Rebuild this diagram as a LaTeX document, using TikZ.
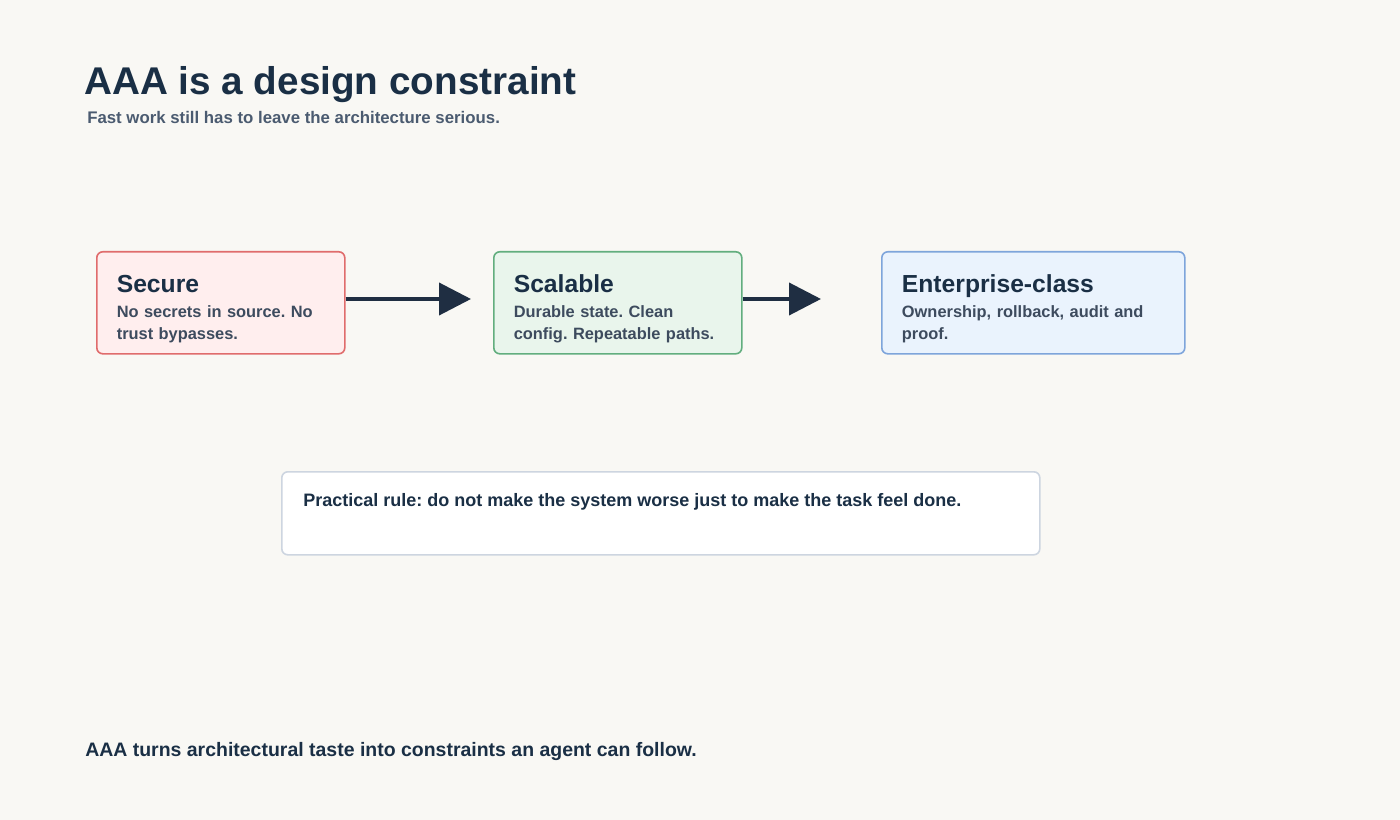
\documentclass[tikz,border=0pt]{standalone}
\usepackage{fontspec}
\setmainfont{Liberation Sans}
\usetikzlibrary{arrows.meta, positioning}
\frenchspacing

\definecolor{pagebg}{HTML}{F9F8F4}
\definecolor{ink}{HTML}{1A2F45}
\definecolor{slate}{HTML}{4B5B70}
\definecolor{bodyink}{HTML}{3D4B5E}
\definecolor{secfill}{HTML}{FFEEEE}
\definecolor{secline}{HTML}{E06C6C}
\definecolor{scalfill}{HTML}{E9F5EC}
\definecolor{scalline}{HTML}{62AE7E}
\definecolor{entfill}{HTML}{EAF3FD}
\definecolor{entline}{HTML}{7EA5DB}
\definecolor{ruleline}{HTML}{CDD5E0}
\definecolor{arrowink}{HTML}{1F2E42}

\tikzset{
    stage/.style={
        rectangle, rounded corners=4.5pt, line width=1.2pt, anchor=north west,
        minimum width=186pt, minimum height=76.5pt, text width=156pt,
        inner xsep=15pt, align=left, text=bodyink, font=\bfseries\fontsize{12.3}{16.5}\selectfont
    },
    rulebox/.style={
        rectangle, rounded corners=4.5pt, line width=1.2pt, draw=ruleline, fill=white,
        anchor=north west, minimum width=568.5pt, minimum height=62.25pt
    },
    flow/.style={
        line width=3pt, draw=arrowink, -{Triangle[length=24pt, width=24pt]}
    }
}

\begin{document}
\begin{tikzpicture}[x=0.75pt, y=-0.75pt]

    % Page
    \fill[pagebg] (0,0) rectangle (1400,820);
    \useasboundingbox (0,0) rectangle (1400,820);

    % Heading
    \node[anchor=base west, inner sep=0pt, text=ink, font=\bfseries\fontsize{29}{34}\selectfont] (title) at (84,95) {AAA is a design constraint};
    \node[anchor=base west, inner sep=0pt, text=slate, font=\bfseries\fontsize{12.6}{15}\selectfont] (subtitle) at (87,124) {Fast work still has to leave the architecture serious.};

    % Stages
    \node[stage, draw=secline, fill=secfill] (secure) at (96,251)
        {{\fontsize{18.5}{22}\selectfont\color{ink}\rule{0pt}{22pt}Secure}\\[2pt]No secrets in source. No\\trust bypasses.};
    \node[stage, draw=scalline, fill=scalfill] (scalable) at (493,251)
        {{\fontsize{18.5}{22}\selectfont\color{ink}\rule{0pt}{22pt}Scalable}\\[2pt]Durable state. Clean\\config. Repeatable paths.};
    \node[stage, draw=entline, fill=entfill, minimum width=227.25pt, text width=197pt] (enterprise) at (881,251)
        {{\fontsize{18.5}{22}\selectfont\color{ink}\rule{0pt}{22pt}Enterprise-class}\\[2pt]Ownership, rollback, audit and\\proof.};

    % Arrow ends
    \coordinate (tipa) at (471,299);
    \coordinate (tipb) at (821,299);
    \draw[flow] (secure.east |- tipa) -- (tipa);
    \draw[flow] (scalable.east |- tipb) -- (tipb);

    % Rule
    \node[rulebox] (rule) at (281,471) {};
    \node[anchor=north west, inner sep=0pt, text=ink, font=\bfseries\fontsize{13.5}{16}\selectfont] (ruletext) at ([shift={(22,22)}]rule.north west)
        {Practical rule: do not make the system worse just to make the task feel done.};

    % Footer
    \node[anchor=base west, inner sep=0pt, text=ink, font=\bfseries\fontsize{14.6}{17}\selectfont] (footer) at (85,756) {AAA turns architectural taste into constraints an agent can follow.};

\end{tikzpicture}
\end{document}
